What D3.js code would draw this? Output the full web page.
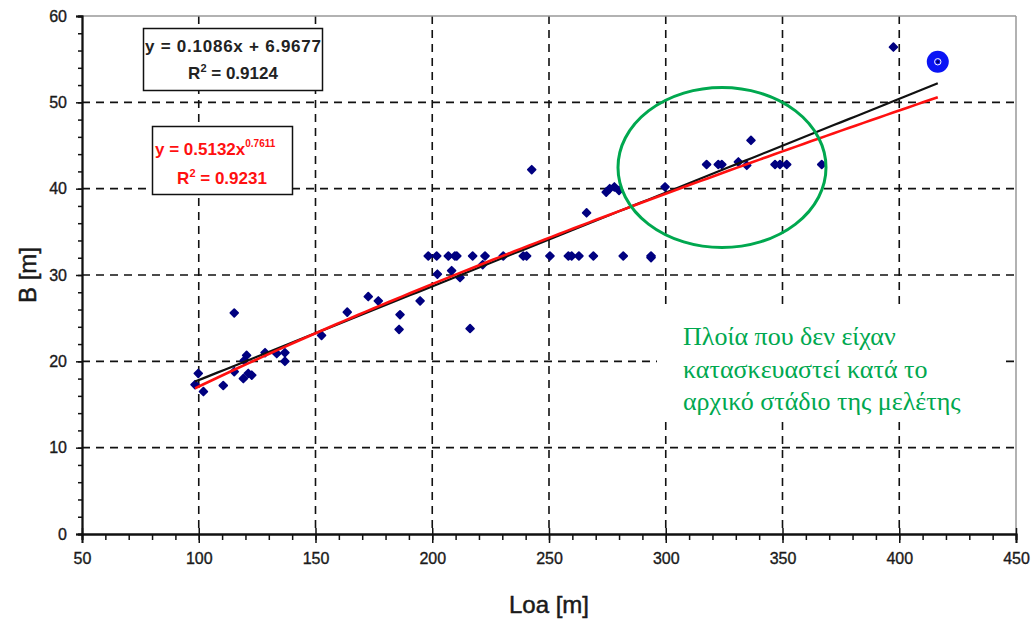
<!DOCTYPE html>
<html><head><meta charset="utf-8">
<script src="https://cdn.jsdelivr.net/npm/d3@7"></script>
<style>
html,body{margin:0;padding:0;background:#fff;}
svg{display:block;}
</style></head>
<body>
<svg id="chart" width="1036" height="623"></svg>
<script>
// ---- data ----
const loa = [98.4, 99.8, 102, 110.5, 115.2, 115.2, 119.1, 119.5, 120.5, 121.2, 122.7, 128.4, 133.4, 136.9, 136.9,
  152.6, 163.6, 172.6, 176.9, 185.8, 186.2, 194.8, 198.3, 201.9, 202.2, 206.9, 208.3, 209.7, 210.5, 211.9,
  216.2, 217.3, 221.6, 222.6, 230.4, 239.0, 240.4, 242.6, 250.4, 258.3, 259.7, 262.8, 266.1, 269.0,
  274.5, 276, 278, 280, 281.8, 293.7, 293.7, 299.7, 317.5, 322.5, 324, 331.1, 334.7, 336.5,
  346.8, 348.9, 351.8, 366.8, 397.5];
const beam = [17.3, 18.6, 16.5, 17.2, 18.8, 25.6, 18.0, 20.1, 20.7, 18.6, 18.4, 21.0, 20.9, 21.0, 20.0,
  23.0, 25.7, 27.5, 27.0, 23.7, 25.4, 27.0, 32.2, 32.2, 30.1, 32.2, 30.5, 32.2, 32.2, 29.7,
  23.8, 32.2, 31.2, 32.2, 32.2, 32.2, 32.2, 42.2, 32.2, 32.2, 32.2, 32.2, 37.2, 32.2,
  39.6, 40.0, 40.2, 39.8, 32.2, 32.2, 32.0, 40.2, 42.8, 42.8, 42.8, 43.1, 42.7, 45.6,
  42.8, 42.8, 42.8, 42.8, 56.4];
const highlightLoa = [416.5];
const highlightBeam = [54.7];
const linCoef = [0.1086, 6.9677];   // y = a x + b
const powCoef = [0.5132, 0.7611];   // y = a x^b
const fitRange = [98.4, 416.5];
const xTicks = [50, 100, 150, 200, 250, 300, 350, 400, 450];
const yTicks = [0, 10, 20, 30, 40, 50, 60];
const xTitle = "Loa [m]";
const yTitle = "B [m]";
const linLabel = ["y = 0.1086x  + 6.9677", "0.9124"];
const powLabel = ["y = 0.5132x", "0.7611", "0.9231"];
const noteLines = ["Πλοία που δεν είχαν", "κατασκευαστεί κατά το", "αρχικό στάδιο της μελέτης"];

// ---- layout ----
const svg = d3.select("#chart");
const L = 82, R = 1016, T = 16, B = 534;
const x = d3.scaleLinear().domain([50, 450]).range([L, R]);
const y = d3.scaleLinear().domain([0, 60]).range([B, T]);
const font = "'Liberation Sans', Arial, sans-serif";
const green = "#00a84f";

// grid
const g = svg.append("g");
g.selectAll("line.vg").data(xTicks.filter(d => d > 50 && d < 450)).enter().append("line")
  .attr("x1", d => x(d)).attr("x2", d => x(d)).attr("y1", T).attr("y2", B)
  .attr("stroke", "#111").attr("stroke-width", 1.6).attr("stroke-dasharray", "8,6");
g.selectAll("line.hg").data(yTicks.filter(d => d > 0 && d < 60)).enter().append("line")
  .attr("x1", L).attr("x2", R).attr("y1", d => y(d)).attr("y2", d => y(d))
  .attr("stroke", "#111").attr("stroke-width", 1.6).attr("stroke-dasharray", "8,6");

// frame top/right
svg.append("line").attr("x1", L).attr("x2", R).attr("y1", T).attr("y2", T).attr("stroke", "#999").attr("stroke-width", 1.5);
svg.append("line").attr("x1", R).attr("x2", R).attr("y1", T).attr("y2", B).attr("stroke", "#999").attr("stroke-width", 1.5);

// axes
const xAxis = d3.axisBottom(x).tickValues(xTicks).tickSize(9).tickPadding(10);
const xMinor = d3.axisBottom(x).tickValues(d3.range(50, 451, 10)).tickSize(6).tickFormat("");
const yAxis = d3.axisLeft(y).tickValues(yTicks).tickSize(6).tickPadding(9);
const yMinor = d3.axisLeft(y).tickValues(d3.range(0, 61, 2)).tickSize(4).tickFormat("");

function styleAxis(sel) {
  sel.select(".domain").attr("stroke", "#111").attr("stroke-width", 1.8);
  sel.selectAll(".tick line").attr("stroke", "#111").attr("stroke-width", 1.5);
  sel.selectAll(".tick text").attr("font-family", font).attr("font-size", 16).attr("fill", "#1a1a1a")
    .attr("stroke", "#1a1a1a").attr("stroke-width", 0.35);
}
svg.append("g").attr("transform", `translate(0,${B})`).call(xMinor).call(styleAxis);
const xg = svg.append("g").attr("transform", `translate(0,${B})`).call(xAxis).call(styleAxis);
xg.selectAll(".tick line").attr("y1", -6);
svg.append("g").attr("transform", `translate(${L},0)`).call(yMinor).call(styleAxis);
svg.append("g").attr("transform", `translate(${L},0)`).call(yAxis).call(styleAxis);

// axis titles
svg.append("text").attr("x", (L + R) / 2).attr("y", 613).attr("text-anchor", "middle")
  .attr("font-family", font).attr("font-size", 24).attr("fill", "#1a1a1a")
  .attr("stroke", "#1a1a1a").attr("stroke-width", 0.5).text(xTitle);
svg.append("text").attr("transform", `translate(36,${(T + B) / 2}) rotate(-90)`).attr("text-anchor", "middle")
  .attr("font-family", font).attr("font-size", 24).attr("fill", "#1a1a1a")
  .attr("stroke", "#1a1a1a").attr("stroke-width", 0.5).text(yTitle);

// points
const pts = loa.map((v, i) => [v, beam[i]]);
svg.append("g").selectAll("path").data(pts).enter().append("path")
  .attr("d", d3.symbol().type(d3.symbolSquare).size(30))
  .attr("transform", d => `translate(${x(d[0])},${y(d[1])}) rotate(45)`)
  .attr("fill", "#000080").attr("stroke", "#000080").attr("stroke-width", 1.8).attr("stroke-linejoin", "round");

// highlighted point
const hp = highlightLoa.map((v, i) => [v, highlightBeam[i]]);
const hg = svg.append("g").selectAll("g").data(hp).enter().append("g")
  .attr("transform", d => `translate(${x(d[0])},${y(d[1])})`);
hg.append("circle").attr("r", 11).attr("fill", "#0a14f5");
hg.append("circle").attr("r", 3.2).attr("fill", "none").attr("stroke", "#fff").attr("stroke-width", 1);
hg.append("circle").attr("r", 1.6).attr("fill", "#000060");

// fit lines
const xs = d3.range(fitRange[0], fitRange[1] + 0.01, (fitRange[1] - fitRange[0]) / 100);
const line = d3.line().x(d => x(d[0])).y(d => y(d[1]));
svg.append("path").datum(xs.map(v => [v, linCoef[0] * v + linCoef[1]]))
  .attr("d", line).attr("fill", "none").attr("stroke", "#111").attr("stroke-width", 2.2);
svg.append("path").datum(xs.map(v => [v, powCoef[0] * Math.pow(v, powCoef[1])]))
  .attr("d", line).attr("fill", "none").attr("stroke", "#ff1010").attr("stroke-width", 2.6);

// equation boxes
const b1 = svg.append("g");
b1.append("rect").attr("x", 143.5).attr("y", 28.5).attr("width", 179).attr("height", 62)
  .attr("fill", "#fff").attr("stroke", "#111").attr("stroke-width", 1.5);
b1.append("text").attr("x", 233).attr("y", 52).attr("text-anchor", "middle").attr("font-family", font)
  .attr("font-size", 17).attr("font-weight", "bold").attr("fill", "#222").attr("textLength", 176).text(linLabel[0]);
const r1 = b1.append("text").attr("x", 233).attr("y", 79).attr("text-anchor", "middle").attr("font-family", font)
  .attr("font-size", 17).attr("font-weight", "bold").attr("fill", "#222");
r1.append("tspan").text("R");
r1.append("tspan").attr("dy", -7).attr("font-size", 11).text("2");
r1.append("tspan").attr("dy", 7).text(" = " + linLabel[1]);

const b2 = svg.append("g");
b2.append("rect").attr("x", 152.5).attr("y", 126.5).attr("width", 140).attr("height", 68)
  .attr("fill", "#fff").attr("stroke", "#111").attr("stroke-width", 1.5);
const e2 = b2.append("text").attr("x", 155).attr("y", 155).attr("font-family", font)
  .attr("font-size", 17).attr("font-weight", "bold").attr("fill", "#ff1010");
e2.append("tspan").text(powLabel[0]);
e2.append("tspan").attr("dy", -8).attr("font-size", 10).text(powLabel[1]);
const r2 = b2.append("text").attr("x", 222).attr("y", 184).attr("text-anchor", "middle").attr("font-family", font)
  .attr("font-size", 17).attr("font-weight", "bold").attr("fill", "#ff1010");
r2.append("tspan").text("R");
r2.append("tspan").attr("dy", -7).attr("font-size", 11).text("2");
r2.append("tspan").attr("dy", 7).text(" = " + powLabel[2]);

// ellipse
svg.append("ellipse").attr("cx", 722).attr("cy", 167.5).attr("rx", 104).attr("ry", 80)
  .attr("fill", "none").attr("stroke", green).attr("stroke-width", 3);

// note
svg.append("rect").attr("x", 657).attr("y", 304).attr("width", 346).attr("height", 118).attr("fill", "#fff");
svg.append("g").selectAll("text").data(noteLines).enter().append("text")
  .attr("x", 683).attr("y", (d, i) => 345 + i * 32.5)
  .attr("font-family", "'Liberation Serif', 'Times New Roman', serif").attr("font-size", 26)
  .attr("fill", green).text(d => d);
</script>
</body></html>
